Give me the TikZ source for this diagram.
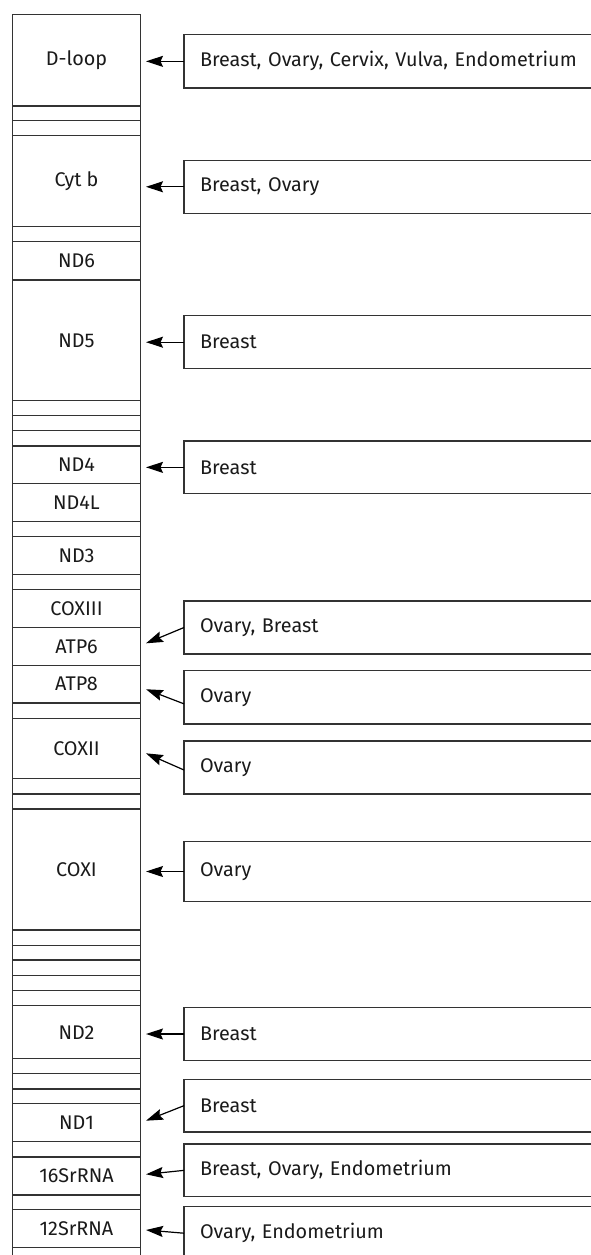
\documentclass[tikz,border=0pt]{standalone}
\usepackage{fontspec}
\setmainfont{Fira Sans}
\usetikzlibrary{arrows.meta,calc}
\definecolor{lineg}{HTML}{333333}
\definecolor{txt}{HTML}{1A1A1A}
\newcommand{\gseg}[4]{\node[segbox, minimum height={#3pt-#2pt}] (#1) at (76.5,#2) {#4};}
\newcommand{\rbx}[4]{\node[rbox, minimum height={#3pt-#2pt}] (#1) at (184,#2) {#4};}
\begin{document}
\begin{tikzpicture}[x=1pt,y=-1pt,
  segbox/.style={minimum width=128pt, inner sep=0pt, outer sep=0pt, anchor=north, text=txt, font=\fontsize{19.8}{22}\selectfont},
  sepline/.style={draw=lineg, line width=1.3pt},
  rbox/.style={draw=lineg, line width=1.3pt, anchor=north west, text width=440pt, align=left, inner xsep=16pt, inner ysep=0pt, outer sep=0pt, text=txt, font=\fontsize{19.8}{22}\selectfont},
  arr/.style={-{Stealth[length=17pt,width=11pt,inset=2.5pt]}, line width=1.2pt, black}]
\useasboundingbox (0,0) rectangle (591,1255);
\clip (0,0) rectangle (591,1255);
% mtDNA column
\gseg{dloop}{14.7}{106}{D-loop}
\gseg{b2}{106}{120.7}{}
\gseg{b3}{120.7}{135.7}{}
\gseg{cytb}{135.7}{226.7}{Cyt b}
\gseg{b5}{226.7}{241.5}{}
\gseg{nd6}{241.5}{280}{ND6}
\gseg{nd5}{280}{400.7}{ND5}
\gseg{b8}{400.7}{415.7}{}
\gseg{b9}{415.7}{430.7}{}
\gseg{b10}{430.7}{446}{}
\gseg{nd4}{446}{483.7}{ND4}
\gseg{nd4l}{483.7}{521.7}{ND4L}
\gseg{b13}{521.7}{536.7}{}
\gseg{nd3}{536.7}{574.7}{ND3}
\gseg{b15}{574.7}{589.3}{}
\gseg{cox3}{589.3}{627.7}{COXIII}
\gseg{atp6}{627.7}{665.5}{ATP6}
\gseg{atp8}{665.5}{703}{ATP8}
\gseg{b19}{703}{718.3}{}
\gseg{cox2}{718.3}{778.3}{COXII}
\gseg{b21}{778.3}{794}{}
\gseg{b22}{794}{809}{}
\gseg{cox1}{809}{930}{COXI}
\gseg{b24}{930}{945.3}{}
\gseg{b25}{945.3}{960}{}
\gseg{b26}{960}{975.7}{}
\gseg{b27}{975.7}{990.7}{}
\gseg{b28}{990.7}{1005.7}{}
\gseg{nd2}{1005.7}{1058.7}{ND2}
\gseg{b30}{1058.7}{1073.5}{}
\gseg{b31}{1073.5}{1089}{}
\gseg{b32}{1089}{1103.7}{}
\gseg{nd1}{1103.7}{1141.7}{ND1}
\gseg{b34}{1141.7}{1157}{}
\gseg{rna16}{1157}{1195}{16SrRNA}
\gseg{b36}{1195}{1209.7}{}
\gseg{rna12}{1209.7}{1247.7}{12SrRNA}
\gseg{b38}{1247.7}{1275}{}
% outline and separators
\draw[sepline] (b38.south west) -- (dloop.north west) -- (dloop.north east) -- (b38.south east);
\foreach \s in {dloop,b2,b3,cytb,b5,nd6,nd5,b8,b9,b10,nd4,nd4l,b13,nd3,b15,cox3,atp6,atp8,b19,cox2,b21,b22,cox1,b24,b25,b26,b27,b28,nd2,b30,b31,b32,nd1,b34,rna16,b36,rna12}
  \draw[sepline] (\s.south west) -- (\s.south east);
% cancer boxes
\rbx{r1}{34.7}{88}{Breast, Ovary, Cervix, Vulva, Endometrium}
\rbx{r2}{160.3}{213.3}{Breast, Ovary}
\rbx{r3}{315.7}{368.7}{Breast}
\rbx{r4}{441}{493.7}{Breast}
\rbx{r5}{601}{654}{Ovary, Breast}
\rbx{r6}{670.7}{724}{Ovary}
\rbx{r7}{741}{794}{Ovary}
\rbx{r8}{841.7}{901.3}{Ovary}
\rbx{r9}{1007.7}{1060.3}{Breast}
\rbx{r10}{1079.3}{1132}{Breast}
\rbx{r11}{1144}{1196.7}{Breast, Ovary, Endometrium}
\rbx{r12}{1206.7}{1259.7}{Ovary, Endometrium}
% arrow tips
\coordinate (t5) at ($(atp6.east)+(5.5,-3.3)$);
\coordinate (t6) at ($(atp8.east)+(5.5,5)$);
\coordinate (t7) at ($(cox2.east)+(5.5,5)$);
\coordinate (t10) at ($(nd1.east)+(5.5,-2)$);
\coordinate (t11) at ($(rna16.east)+(5.5,-1.7)$);
\coordinate (t12) at ($(rna12.east)+(5.5,1.3)$);
% connectors
\draw[arr, shorten >=5.5pt] (r1.west) -- (r1.west -| dloop.east);
\draw[arr, shorten >=5.5pt] (r2.west) -- (r2.west -| cytb.east);
\draw[arr, shorten >=5.5pt] (r3.west) -- (r3.west -| nd5.east);
\draw[arr, shorten >=5.5pt] (r4.west) -- (r4.west -| nd4.east);
\draw[arr] (r5.west) -- (t5);
\draw[arr] ($(r6.west)+(0,6.5)$) -- (t6);
\draw[arr] ($(r7.west)+(0,2.5)$) -- (t7);
\draw[arr, shorten >=5.5pt] (r8.west) -- (r8.west -| cox1.east);
\draw[arr, shorten >=5.5pt] (r9.west) -- (r9.west -| nd2.east);
\draw[arr] (r10.west) -- (t10);
\draw[arr] (r11.west) -- (t11);
\draw[arr] (r12.west) -- (t12);
\end{tikzpicture}
\end{document}
